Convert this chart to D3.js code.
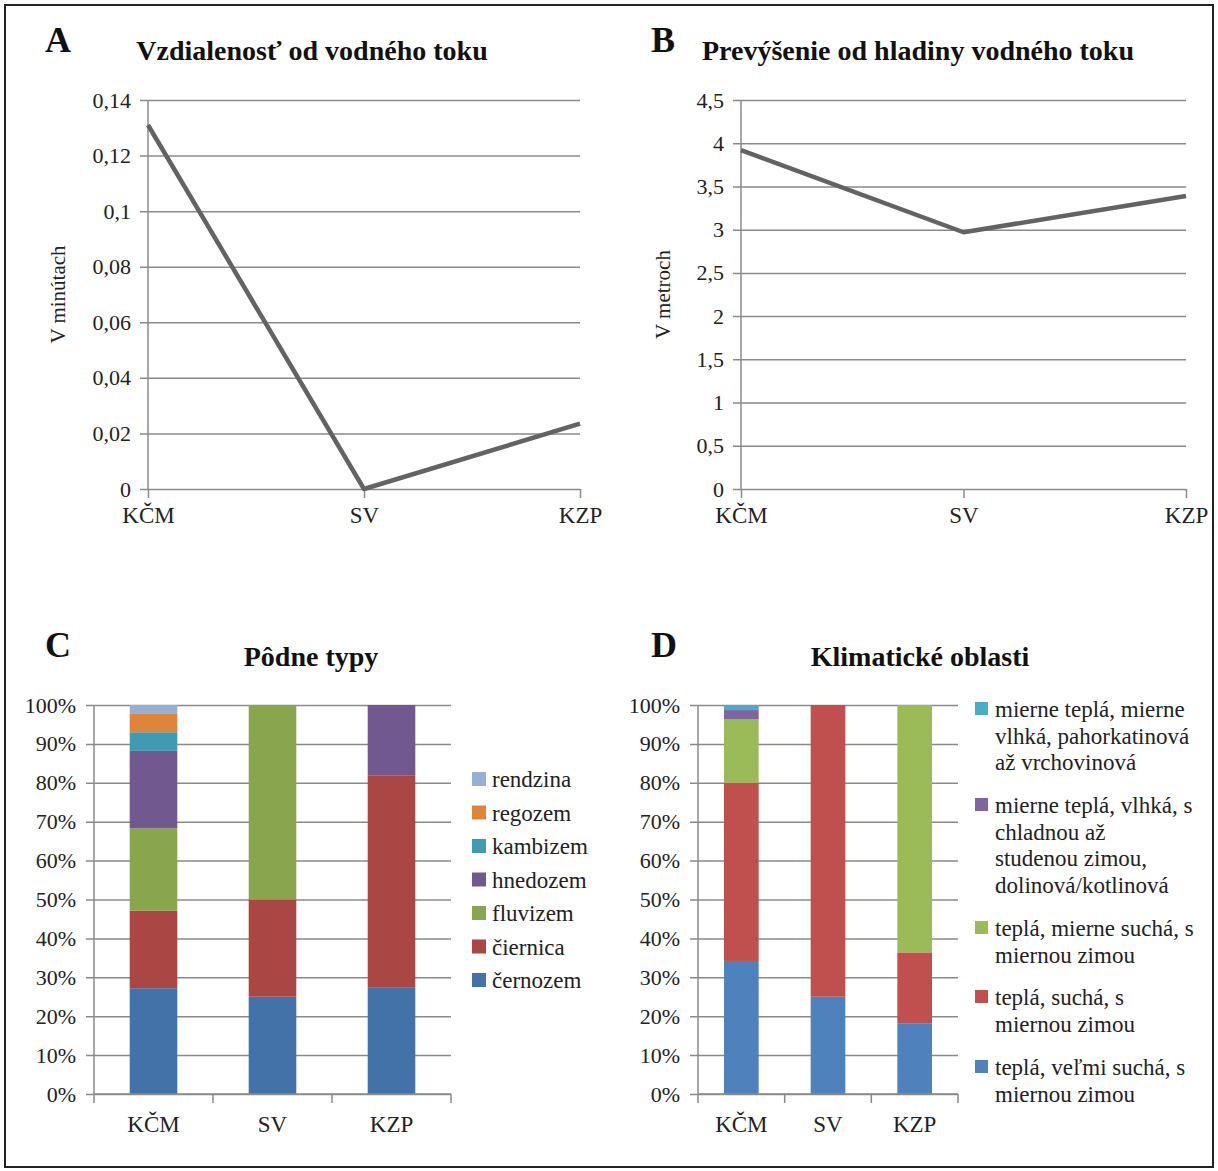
<!DOCTYPE html>
<html lang="sk">
<head>
<meta charset="UTF-8">
<title>Charakteristiky lokalít</title>
<script src="https://d3js.org/d3.v7.min.js"></script>
<style>
  body { margin: 0; background: #fff; }
  svg { display: block; font-family: "Liberation Serif", "Times New Roman", serif; }
  .grid line { stroke: #8a8a8a; stroke-width: 1.5; }
  .grid path { display: none; }
  .grid text { fill: #222; font-size: 22px; }
  .xax text { fill: #222; font-size: 23px; }
  .xax path, .xax line { stroke: #8a8a8a; stroke-width: 1.5; }
</style>
</head>
<body>
<svg width="1218" height="1171"></svg>
<script>
// --- data ---
const sites = ["KČM", "SV", "KZP"];

const distTicks = [0, 0.02, 0.04, 0.06, 0.08, 0.1, 0.12, 0.14];
const distValues = [0.131, 0, 0.0235];

const heightTicks = [0, 0.5, 1, 1.5, 2, 2.5, 3, 3.5, 4, 4.5];
const heightValues = [3.92, 2.97, 3.39];

const pctTicks = [0, 0.1, 0.2, 0.3, 0.4, 0.5, 0.6, 0.7, 0.8, 0.9, 1];

const soilTypes = ["černozem", "čiernica", "fluvizem", "hnedozem", "kambizem", "regozem", "rendzina"];
const soilKCM = [27.2, 19.9, 21.2, 19.9, 4.8, 4.7, 2.3];
const soilSV = [25, 25, 50, 0, 0, 0, 0];
const soilKZP = [27.3, 54.5, 0, 18.2, 0, 0, 0];
const soilColors = ["#4272A8", "#AA4643", "#89A54E", "#71588F", "#3F9AB2", "#DF843B", "#96AFD4"];

const climateZones = [
  ["teplá, veľmi suchá, s", "miernou zimou"],
  ["teplá, suchá, s", "miernou zimou"],
  ["teplá, mierne suchá, s", "miernou zimou"],
  ["mierne teplá, vlhká, s", "chladnou až", "studenou zimou,", "dolinová/kotlinová"],
  ["mierne teplá, mierne", "vlhká, pahorkatinová", "až vrchovinová"]
];
const climateKCM = [34.2, 45.8, 16.4, 2.3, 1.3];
const climateSV = [25, 75, 0, 0, 0];
const climateKZP = [18.2, 18.2, 63.6, 0, 0];
const climateColors = ["#4F81BD", "#C0504D", "#9BBB59", "#8064A2", "#4BACC6"];

// slovak number format
const sk = d3.formatLocale({ decimal: ",", thousands: " ", grouping: [3], currency: ["", " €"] });

const svg = d3.select("svg");
svg.append("rect").attr("x", 5).attr("y", 5).attr("width", 1208).attr("height", 1162)
  .attr("fill", "#fff").attr("stroke", "#222").attr("stroke-width", 2);

function heading(letter, title, lx, ly, tx, ty) {
  svg.append("text").attr("x", lx).attr("y", ly)
    .attr("font-size", 36).attr("font-weight", "bold").attr("fill", "#111").text(letter);
  svg.append("text").attr("x", tx).attr("y", ty).attr("text-anchor", "middle")
    .attr("font-size", 28).attr("font-weight", "bold").attr("fill", "#111").text(title);
}

function lineChart(o) {
  const x = d3.scalePoint().domain(sites).range([o.x0, o.x1]);
  const y = d3.scaleLinear().domain([0, d3.max(o.ticks)]).range([o.y1, o.y0]);

  svg.append("g").attr("class", "grid")
    .attr("transform", `translate(${o.x0 - 8},0)`)
    .call(d3.axisLeft(y).tickValues(o.ticks).tickSize(-(o.x1 - o.x0 + 8)).tickPadding(9)
      .tickFormat(sk.format("~g")))
    .attr("font-family", null).attr("font-size", null);

  svg.append("line").attr("x1", o.x0).attr("x2", o.x0).attr("y1", o.y0).attr("y2", o.y1)
    .attr("stroke", "#8a8a8a").attr("stroke-width", 1.5);

  svg.append("g").attr("class", "xax")
    .attr("transform", `translate(0,${o.y1})`)
    .call(d3.axisBottom(x).tickSize(9).tickPadding(9).tickSizeOuter(0))
    .attr("font-family", null).attr("font-size", null)
    .call(g => g.select(".domain").remove());

  svg.append("text")
    .attr("transform", `translate(${o.ylx},${(o.y0 + o.y1) / 2}) rotate(-90)`)
    .attr("text-anchor", "middle").attr("font-size", 21).attr("fill", "#222").text(o.ylabel);

  svg.append("path").datum(o.values)
    .attr("fill", "none").attr("stroke", "#636363").attr("stroke-width", 4.5)
    .attr("stroke-linejoin", "round")
    .attr("d", d3.line().x((d, i) => x(sites[i])).y(d => y(d)));
}

function stackChart(o) {
  const rows = sites.map((s, i) => {
    const r = { site: s };
    o.keys.forEach((k, j) => r[k] = o.series[i][j] / 100);
    return r;
  });
  const x = d3.scaleBand().domain(sites).range([o.x0, o.x1]).paddingInner(0.6).paddingOuter(0.3);
  const xb = d3.scaleLinear().domain([0, 3]).range([o.x0, o.x1]);
  const y = d3.scaleLinear().domain([0, 1]).range([o.y1, o.y0]);

  svg.append("g").attr("class", "grid")
    .attr("transform", `translate(${o.x0 - 8},0)`)
    .call(d3.axisLeft(y).tickValues(pctTicks).tickSize(-(o.x1 - o.x0 + 8)).tickPadding(10)
      .tickFormat(d3.format(".0%")))
    .attr("font-family", null).attr("font-size", null);

  const stack = d3.stack().keys(o.keys)(rows);
  svg.append("g").selectAll("g").data(stack).join("g")
    .attr("fill", (d, i) => o.colors[i])
    .selectAll("rect").data(d => d).join("rect")
    .attr("x", d => x(d.data.site))
    .attr("width", x.bandwidth())
    .attr("y", d => y(d[1]))
    .attr("height", d => y(d[0]) - y(d[1]));

  svg.append("line").attr("x1", o.x0).attr("x2", o.x0).attr("y1", o.y0).attr("y2", o.y1)
    .attr("stroke", "#8a8a8a").attr("stroke-width", 1.5);

  // category boundary ticks
  const xg = svg.append("g").attr("class", "xax").attr("transform", `translate(0,${o.y1})`);
  xg.append("line").attr("x1", o.x0).attr("x2", o.x1);
  xg.selectAll("line.t").data(d3.range(4)).join("line").attr("class", "t")
    .attr("x1", d => xb(d)).attr("x2", d => xb(d)).attr("y1", 0).attr("y2", 9);
  xg.selectAll("text").data(sites).join("text")
    .attr("x", d => x(d) + x.bandwidth() / 2).attr("y", 38)
    .attr("text-anchor", "middle").text(d => d);
}

heading("A", "Vzdialenosť od vodného toku", 45, 52, 312, 60);
lineChart({ x0: 148, x1: 580, y0: 100, y1: 489, ticks: distTicks, values: distValues,
  ylabel: "V minútach", ylx: 65 });

heading("B", "Prevýšenie od hladiny vodného toku", 651, 52, 918, 60);
lineChart({ x0: 741, x1: 1186, y0: 100, y1: 489, ticks: heightTicks, values: heightValues,
  ylabel: "V metroch", ylx: 670 });

heading("C", "Pôdne typy", 45, 657, 311, 666);
stackChart({ x0: 94, x1: 451, y0: 705, y1: 1094, keys: soilTypes,
  series: [soilKCM, soilSV, soilKZP], colors: soilColors });

// legend C (reversed order)
const legC = svg.append("g").selectAll("g").data(soilTypes.map((d, i) => i).reverse()).join("g")
  .attr("transform", (d, i) => `translate(472,${779 + i * 33.5})`);
legC.append("rect").attr("x", 0).attr("y", -7).attr("width", 14).attr("height", 14)
  .attr("fill", d => soilColors[d]);
legC.append("text").attr("x", 20).attr("y", 8).attr("font-size", 23).attr("fill", "#222")
  .text(d => soilTypes[d]);

heading("D", "Klimatické oblasti", 651, 657, 920, 666);
stackChart({ x0: 698, x1: 958, y0: 705, y1: 1094, keys: climateZones.map(d => d.join(" ")),
  series: [climateKCM, climateSV, climateKZP], colors: climateColors });

// legend D (reversed order, wrapped lines)
const legTops = [709, 805, 928, 997, 1067];
const legD = svg.append("g").selectAll("g").data(climateZones.map((d, i) => i).reverse()).join("g")
  .attr("transform", (d, i) => `translate(975,${legTops[i]})`);
legD.append("rect").attr("x", 0).attr("y", -7).attr("width", 13).attr("height", 13)
  .attr("fill", d => climateColors[d]);
legD.append("text").attr("font-size", 23).attr("fill", "#222")
  .selectAll("tspan").data(d => climateZones[d]).join("tspan")
  .attr("x", 20).attr("y", (d, i) => 8 + i * 26.7).text(d => d);
</script>
</body>
</html>
